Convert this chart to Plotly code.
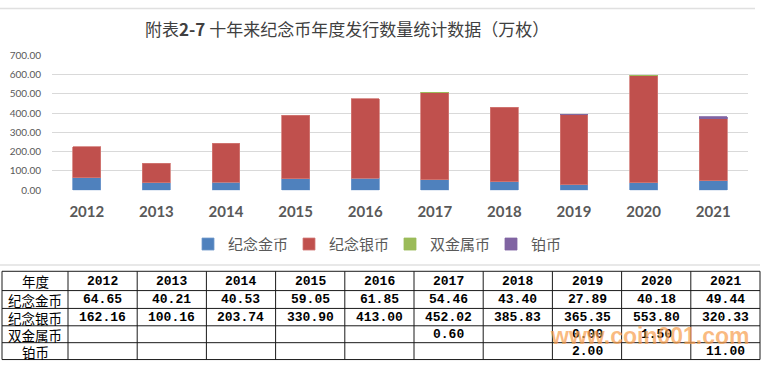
import plotly.graph_objects as go

years = ["2012", "2013", "2014", "2015", "2016", "2017", "2018", "2019", "2020", "2021"]
gold = [64.65, 40.21, 40.53, 59.05, 61.85, 54.46, 43.40, 27.89, 40.18, 49.44]
silver = [162.16, 100.16, 203.74, 330.90, 413.00, 452.02, 385.83, 365.35, 553.80, 320.33]
bimetal = [None, None, None, None, None, 0.60, None, 0.00, 1.50, None]
platinum = [None, None, None, None, None, None, None, 2.00, None, 11.00]
series_names = ["纪念金币", "纪念银币", "双金属币", "铂币"]
series_values = [gold, silver, bimetal, platinum]
colors = ["#4F81BD", "#C0504D", "#9BBB59", "#8064A2"]
edge_colors = ["#7199CC", "#D27A77", "#9BBB59", "#8064A2"]
title_text = "附表<b>2-7</b> 十年来纪念币年度发行数量统计数据（万枚）"
table_header = "年度"
y_ticks = [0, 100, 200, 300, 400, 500, 600, 700]

W, H = 763, 367
ML, MR = 2, 3
PW = W - ML - MR


def px_x(x):
    return (x - ML) / PW


def px_y(y):
    return 1 - y / H


fig = go.Figure()
for name, vals, c, ec in zip(series_names, series_values, colors, edge_colors):
    fig.add_trace(go.Bar(
        x=years, y=vals, name=name,
        marker=dict(color=c, line=dict(color=ec, width=0.8)),
    ))


def fmt(v):
    return "" if v is None else f"{v:.2f}"


# ---- data table (built from the arrays above) ----
table_rows = [[table_header] + years] + [
    [n] + [fmt(v) for v in vals] for n, vals in zip(series_names, series_values)
]
col_edges = [2, 68]
for _ in years:
    col_edges.append(col_edges[-1] + (760 - 68) / len(years))
row_edges = [274, 294, 312.5, 330.5, 348, 365.5]

shapes = [
    dict(type="line", xref="paper", yref="paper", x0=px_x(0), x1=px_x(755), y0=px_y(1.5), y1=px_y(1.5),
         line=dict(color="#E0E0E0", width=1.5)),
    dict(type="line", xref="paper", yref="paper", x0=px_x(0), x1=px_x(760), y0=px_y(267.5), y1=px_y(267.5),
         line=dict(color="#E0E0E0", width=1.5)),
]
for ry in row_edges:
    shapes.append(dict(type="line", xref="paper", yref="paper", x0=px_x(col_edges[0]), x1=px_x(col_edges[-1]),
                       y0=px_y(ry), y1=px_y(ry), line=dict(color="#1A1A1A", width=1)))
for cx in col_edges:
    shapes.append(dict(type="line", xref="paper", yref="paper", x0=px_x(cx), x1=px_x(cx),
                       y0=px_y(row_edges[0]), y1=px_y(row_edges[-1]), line=dict(color="#1A1A1A", width=1)))

annotations = [
    dict(text=title_text, xref="paper", yref="paper", x=px_x(347), y=px_y(22),
         xanchor="center", yanchor="middle", showarrow=False,
         font=dict(family="Noto Sans CJK SC", size=17, color="#404040")),
]
for ri, row in enumerate(table_rows):
    yc = (row_edges[ri] + row_edges[ri + 1]) / 2
    for ci, txt in enumerate(row):
        if not txt:
            continue
        xc = (col_edges[ci] + col_edges[ci + 1]) / 2
        is_label = (ci == 0)
        annotations.append(dict(
            text=txt, xref="paper", yref="paper", x=px_x(xc), y=px_y(yc + 0.5),
            xanchor="center", yanchor="middle", showarrow=False,
            font=dict(family="Noto Sans CJK SC" if is_label else "Liberation Mono, Noto Sans CJK SC",
                      size=13.5 if is_label else 13, color="#000000",
                      weight="normal" if is_label else "bold"),
        ))
annotations.append(dict(
    text="www.coin001.com", xref="paper", yref="paper", x=px_x(752), y=px_y(341),
    xanchor="right", yanchor="middle", showarrow=False,
    font=dict(family="Liberation Sans", size=23, color="rgba(248,160,80,0.72)", weight="bold")))

fig.update_layout(
    width=W, height=H,
    margin=dict(l=ML, r=MR, t=0, b=0, pad=0),
    paper_bgcolor="white", plot_bgcolor="white",
    barmode="stack", bargap=0.6,
    showlegend=True,
    legend=dict(
        orientation="h", x=px_x(188), xanchor="left", y=px_y(246), yanchor="middle",
        entrywidth=56, traceorder="normal",
        font=dict(family="Noto Sans CJK SC", size=15, color="#595959"),
        bgcolor="rgba(0,0,0,0)",
    ),
    xaxis=dict(
        domain=[px_x(52), px_x(748)],
        type="category", showgrid=False, showline=False, zeroline=False,
        ticks="", ticklabelstandoff=11,
        tickfont=dict(family="Lato", size=15, color="#595959", weight="bold"),
    ),
    yaxis=dict(
        domain=[px_y(190), px_y(50)],
        range=[0, 700], tickvals=y_ticks, tickformat=".2f",
        showgrid=True, gridcolor="#D9D9D9", gridwidth=1, zeroline=False,
        showline=False, ticks="", ticklabelstandoff=10,
        tickfont=dict(family="Lato", size=10, color="#595959"),
    ),
    annotations=annotations,
    shapes=shapes,
)

fig.write_html("out.html", config={"displayModeBar": False},
               post_script="document.body.style.margin='0';document.body.style.overflow='hidden';")
